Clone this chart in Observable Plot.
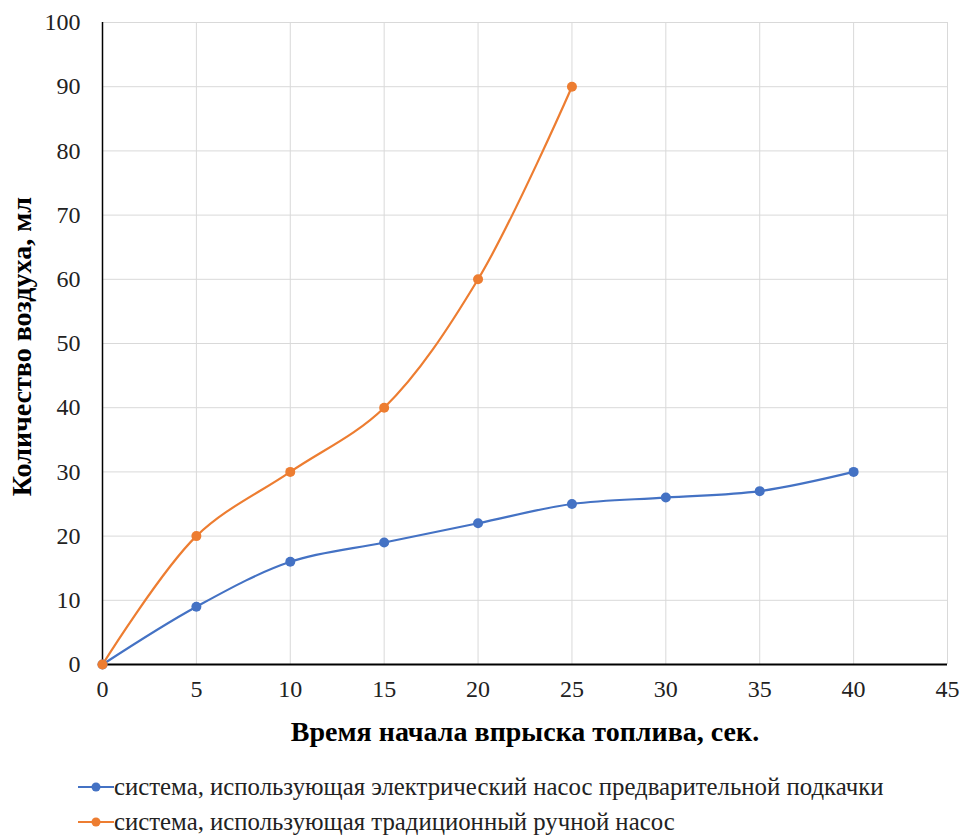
<!DOCTYPE html>
<html>
<head>
<meta charset="utf-8">
<script src="https://cdn.jsdelivr.net/npm/d3@7"></script>
<script src="https://cdn.jsdelivr.net/npm/@observablehq/plot@0.6"></script>
<style>
  body { margin: 0; background: #fff; font-family: 'Liberation Serif', serif; }
  #legend { position: relative; width: 960px; height: 78px; }
  .row { position: absolute; left: 78px; display: flex; align-items: center; font-family: 'Liberation Serif', serif; font-size: 24.8px; color: #222; height: 30px; white-space: nowrap; }
</style>
</head>
<body>
<div id="chart"></div>
<div id="legend"></div>
<script>
const times = [0, 5, 10, 15, 20, 25, 30, 35, 40];
const electricValues = [0, 9, 16, 19, 22, 25, 26, 27, 30];
const manualTimes = [0, 5, 10, 15, 20, 25];
const manualValues = [0, 20, 30, 40, 60, 90];
const seriesNames = [
  "система, использующая электрический насос предварительной подкачки",
  "система, использующая традиционный ручной насос"
];
const seriesColors = ["#4472C4", "#ED7D31"];
const xTicks = [0, 5, 10, 15, 20, 25, 30, 35, 40, 45];
const yTicks = [0, 10, 20, 30, 40, 50, 60, 70, 80, 90, 100];
const xTitle = "Время начала впрыска топлива, сек.";
const yTitle = "Количество воздуха, мл";

const electric = times.map((t, i) => ({x: t, y: electricValues[i], s: seriesNames[0]}));
const manual = manualTimes.map((t, i) => ({x: t, y: manualValues[i], s: seriesNames[1]}));
const FF = "'Liberation Serif', serif";

const chart = Plot.plot({
  width: 960,
  height: 760,
  marginTop: 22,
  marginLeft: 102,
  marginRight: 13,
  marginBottom: 96,
  style: "font-family: 'Liberation Serif', serif; font-size: 24px; color: #222; background: #fff;",
  x: {domain: [0, 45], ticks: xTicks, label: null},
  y: {domain: [0, 100], ticks: yTicks, label: null},
  marks: [
    Plot.gridX(xTicks, {stroke: "#d9d9d9", strokeOpacity: 1, strokeWidth: 1}),
    Plot.gridY(yTicks, {stroke: "#d9d9d9", strokeOpacity: 1, strokeWidth: 1}),
    Plot.axisX(xTicks, {tickSize: 0, tickPadding: 15, fontSize: 24, fontFamily: FF, fill: "#222"}),
    Plot.axisY(yTicks, {tickSize: 0, tickPadding: 22, fontSize: 24, fontFamily: FF, fill: "#222"}),
    Plot.ruleY([0], {stroke: "#000", strokeWidth: 2}),
    Plot.ruleX([0], {stroke: "#000", strokeWidth: 1.5}),
    Plot.line(electric, {x: "x", y: "y", stroke: seriesColors[0], strokeWidth: 2.2, curve: "catmull-rom"}),
    Plot.line(manual, {x: "x", y: "y", stroke: seriesColors[1], strokeWidth: 2.2, curve: "catmull-rom"}),
    Plot.dot(electric, {x: "x", y: "y", fill: seriesColors[0], r: 5}),
    Plot.dot(manual, {x: "x", y: "y", fill: seriesColors[1], r: 5}),
    Plot.text([xTitle], {x: 22.5, y: 0, dy: 68, fontWeight: "bold", fontSize: 28, fontFamily: FF, fill: "#000", textAnchor: "middle"}),
    Plot.text([yTitle], {x: 0, y: 49.5, dx: -80, rotate: -90, fontWeight: "bold", fontSize: 28, fontFamily: FF, fill: "#000", textAnchor: "middle"})
  ]
});
document.getElementById("chart").appendChild(chart);

const legend = document.getElementById("legend");
seriesNames.forEach((name, i) => {
  const row = document.createElement("div");
  row.className = "row";
  row.style.top = (12 + i * 35) + "px";
  row.innerHTML = `<svg width="36" height="14"><line x1="0" y1="7" x2="36" y2="7" stroke="${seriesColors[i]}" stroke-width="2.2"/><circle cx="18" cy="7" r="4.5" fill="${seriesColors[i]}"/></svg><span>${name}</span>`;
  legend.appendChild(row);
});
</script>
</body>
</html>
